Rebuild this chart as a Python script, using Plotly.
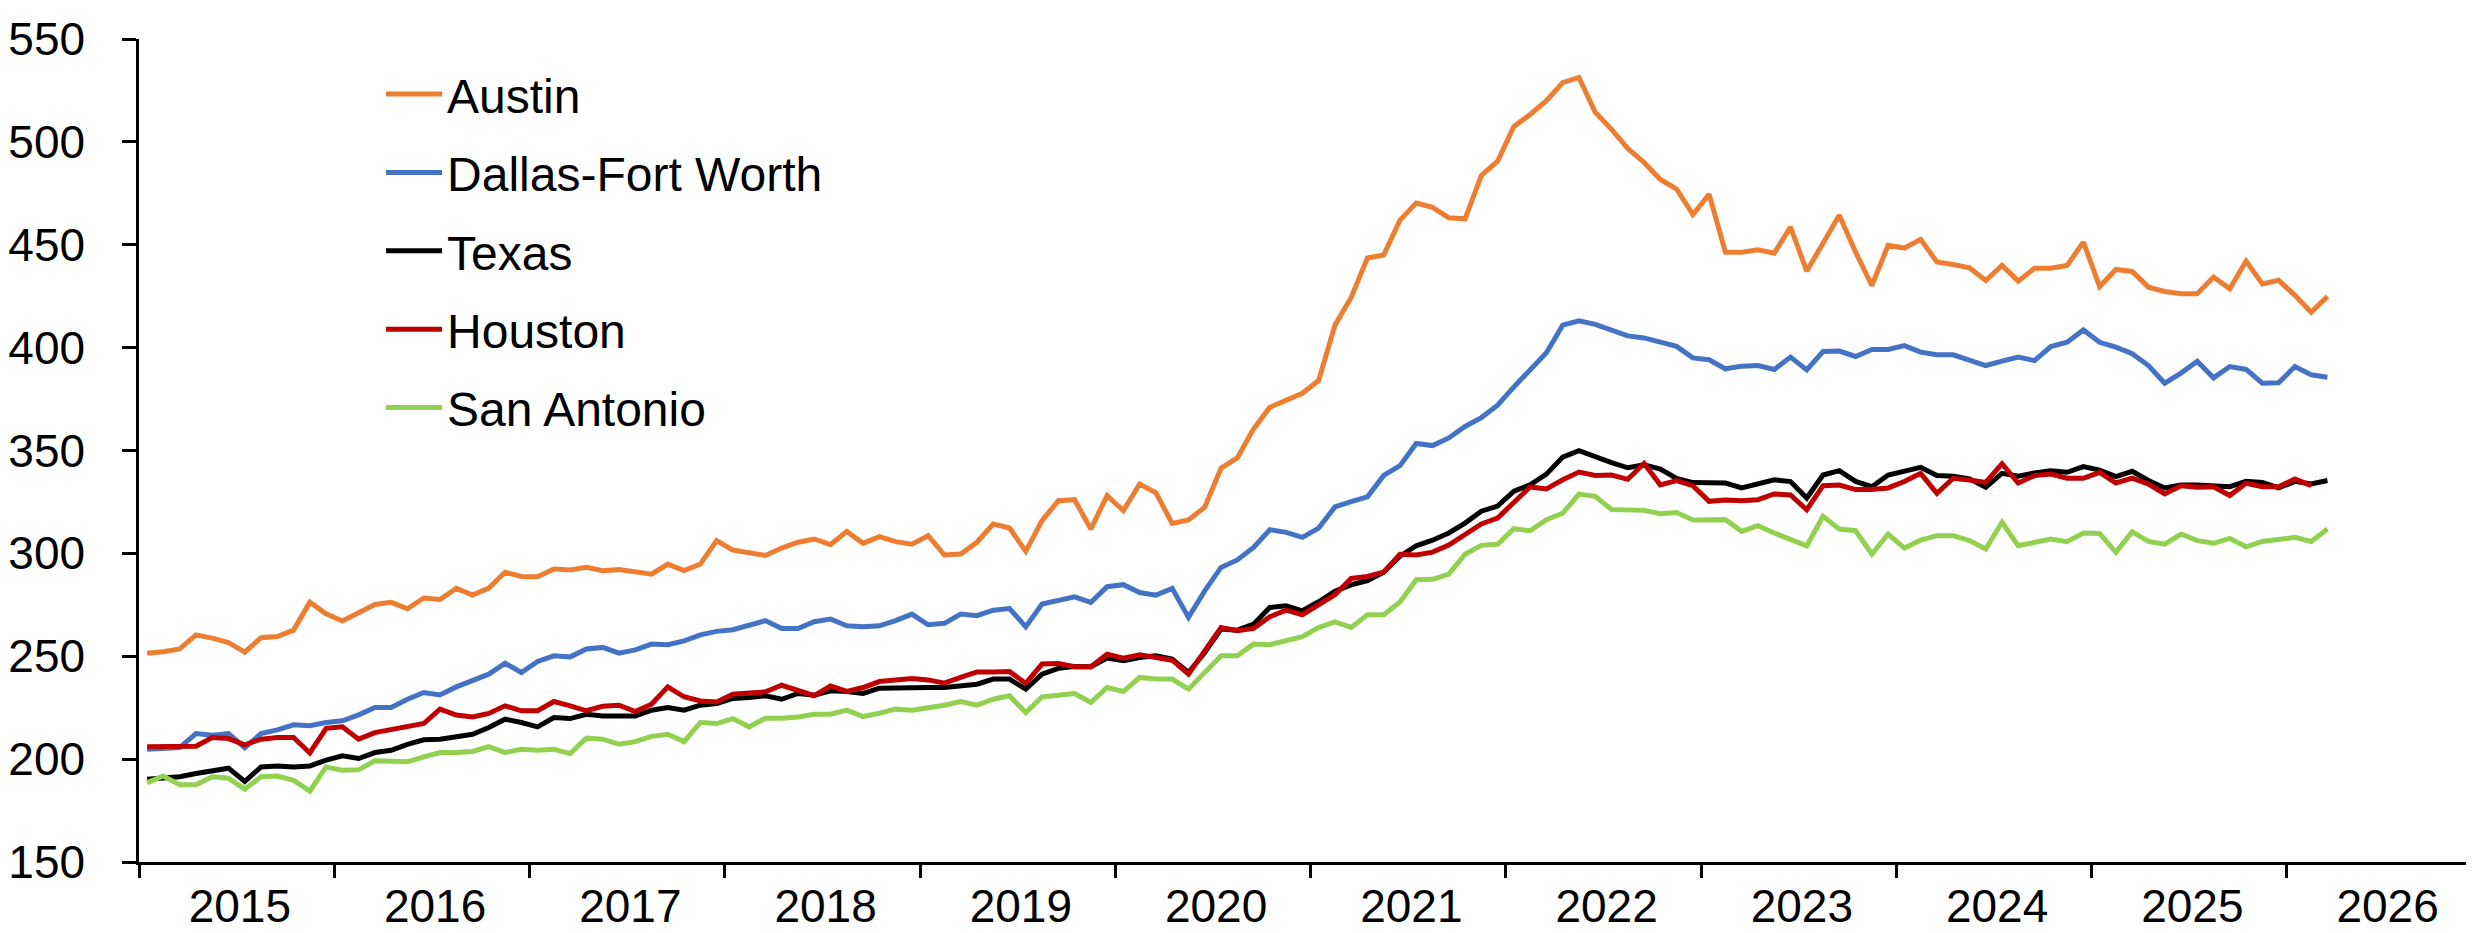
import plotly.graph_objects as go

years = [str(y) for y in range(2015, 2027)]
n_slots = 144  # Jan 2015 .. Dec 2026 monthly category slots

austin = [251.5, 252.2, 253.6, 260.4, 258.8, 256.7, 252.0, 259.0, 259.6, 262.7, 276.3, 270.6,
          267.1, 271.3, 275.2, 276.2, 273.1, 278.3, 277.6, 283.0, 279.7, 283.1, 290.8, 288.8,
          288.6, 292.4, 291.9, 293.2, 291.6, 292.1, 290.8, 289.9, 294.8, 291.6, 294.8, 306.2,
          301.6, 300.2, 299.0, 302.6, 305.4, 307.0, 304.2, 310.7, 304.9, 308.1, 305.7, 304.5,
          308.6, 299.2, 299.7, 305.4, 314.3, 312.3, 301.0, 315.9, 325.6, 326.1, 311.8, 328.1,
          320.8, 333.7, 329.4, 314.6, 316.2, 322.4, 341.4, 346.4, 360.5, 371.0, 374.3, 377.8,
          384.0, 410.9, 424.4, 443.6, 445.0, 462.0, 470.3, 468.2, 463.1, 462.6, 483.7, 490.6,
          507.5, 513.3, 520.0, 528.8, 531.3, 514.4, 506.1, 496.8, 490.0, 481.7, 477.1, 464.7,
          474.5, 446.4, 446.4, 447.6, 445.9, 458.6, 437.2, 450.5, 464.3, 446.4, 430.2, 449.7,
          448.4, 452.6, 441.6, 440.4, 438.8, 432.6, 439.9, 432.3, 438.6, 438.6, 439.9, 451.3,
          429.7, 438.0, 437.0, 429.4, 427.3, 426.2, 426.2, 434.3, 428.6, 442.1, 431.0, 432.7,
          425.4, 417.2, 424.9]

dfw = [204.8, 205.3, 205.6, 212.4, 211.6, 212.4, 205.6, 212.4, 214.2, 216.7, 216.2, 217.8,
       218.6, 221.5, 225.1, 225.1, 229.1, 232.4, 231.2, 235.1, 238.5, 241.3, 246.6, 242.1,
       247.5, 250.2, 249.7, 253.5, 254.3, 251.5, 253.1, 255.9, 255.6, 257.5, 260.4, 262.1,
       262.9, 265.3, 267.3, 263.5, 263.5, 266.8, 268.1, 264.8, 264.3, 264.8, 267.3, 270.5,
       265.3, 266.0, 270.5, 269.7, 272.4, 273.2, 264.3, 275.4, 277.3, 278.9, 276.2, 283.8,
       284.8, 281.0, 279.7, 283.0, 268.9, 281.8, 293.2, 296.8, 302.9, 311.5, 310.2, 307.8,
       312.3, 322.6, 325.1, 327.5, 337.9, 342.6, 353.4, 352.4, 356.1, 361.7, 366.0, 372.0,
       380.9, 389.2, 397.5, 410.9, 413.0, 411.3, 408.2, 405.7, 404.7, 402.6, 400.6, 395.0,
       394.1, 389.7, 391.0, 391.3, 389.4, 395.4, 389.2, 398.1, 398.3, 395.7, 399.1, 399.1,
       401.0, 397.8, 396.5, 396.5, 393.7, 391.3, 393.4, 395.4, 393.7, 400.5, 402.6, 408.6,
       402.6, 400.2, 397.0, 391.3, 382.7, 387.6, 393.4, 385.3, 390.8, 389.4, 382.7, 382.9,
       390.8, 386.8, 385.6]

texas = [190.2, 191.0, 191.4, 193.0, 194.6, 195.6, 189.1, 196.2, 196.7, 196.2, 196.7, 199.5,
         201.6, 200.3, 203.2, 204.3, 207.2, 209.4, 209.7, 211.0, 212.1, 215.4, 219.4, 217.8,
         215.7, 220.2, 219.7, 221.8, 221.0, 221.0, 221.0, 223.8, 225.1, 223.8, 226.2, 227.0,
         229.5, 229.9, 230.8, 229.1, 231.9, 231.1, 233.2, 232.9, 231.9, 234.5, 234.8, 234.8,
         234.8, 234.8, 235.6, 236.4, 238.9, 238.9, 234.0, 241.3, 244.1, 245.0, 244.9, 249.1,
         247.8, 249.4, 250.2, 248.6, 242.1, 251.8, 263.2, 262.7, 265.6, 273.7, 274.5, 272.1,
         276.5, 281.6, 284.7, 286.8, 290.9, 298.6, 303.7, 306.4, 309.9, 314.7, 320.5, 323.0,
         330.2, 333.3, 338.5, 346.8, 349.9, 346.8, 344.1, 341.6, 343.1, 341.0, 336.4, 334.4,
         334.5, 334.2, 331.8, 333.7, 335.8, 334.9, 326.9, 338.1, 340.2, 335.0, 332.4, 338.1,
         339.9, 341.8, 337.8, 337.5, 336.2, 332.1, 338.9, 337.5, 339.1, 340.2, 339.4, 342.2,
         340.5, 337.3, 339.9, 335.4, 331.8, 333.2, 333.2, 332.9, 332.4, 335.0, 334.5, 331.8,
         335.0, 333.7, 335.4]

houston = [206.0, 206.1, 206.3, 206.3, 210.5, 210.0, 206.9, 209.7, 210.5, 210.5, 203.0, 215.0,
           215.7, 209.7, 212.9, 214.2, 215.7, 217.3, 224.3, 221.4, 220.5, 222.2, 225.9, 223.5,
           223.5, 228.0, 225.9, 223.5, 225.7, 226.2, 223.1, 226.7, 235.1, 230.3, 228.3, 227.8,
           231.6, 232.0, 232.7, 235.9, 233.2, 230.8, 235.6, 232.9, 234.8, 237.7, 238.5, 239.2,
           238.5, 236.9, 239.7, 242.4, 242.4, 242.6, 236.8, 246.2, 246.5, 244.9, 244.9, 251.0,
           249.1, 250.7, 249.4, 248.1, 241.3, 252.7, 264.0, 262.4, 263.5, 269.2, 272.4, 270.2,
           275.4, 279.9, 287.8, 288.8, 290.9, 299.6, 299.2, 300.6, 304.0, 309.1, 314.3, 317.2,
           325.0, 332.3, 331.3, 335.8, 339.5, 337.9, 338.1, 336.0, 343.7, 333.3, 335.4, 332.9,
           325.3, 325.9, 325.6, 326.1, 328.9, 328.4, 321.2, 332.9, 333.2, 331.0, 331.0, 331.8,
           334.9, 338.9, 329.2, 336.5, 335.7, 334.5, 343.5, 334.2, 337.8, 338.6, 336.5, 336.5,
           339.4, 334.2, 336.6, 333.7, 328.9, 332.9, 332.1, 332.4, 328.1, 334.1, 332.4, 332.4,
           336.2, 332.9]

san_antonio = [188.6, 191.8, 187.5, 187.5, 191.4, 190.7, 185.4, 191.4, 191.8, 189.7, 184.5, 196.2,
               194.6, 194.8, 199.2, 199.2, 198.7, 201.1, 203.2, 203.2, 203.7, 206.1, 203.2, 204.8,
               204.3, 204.8, 202.7, 210.2, 209.7, 207.2, 208.5, 211.0, 212.1, 208.5, 217.8, 217.3,
               219.7, 215.7, 219.9, 219.9, 220.5, 221.8, 221.8, 223.8, 220.7, 222.3, 224.3, 223.8,
               224.8, 226.2, 228.0, 226.2, 229.1, 230.8, 222.6, 230.3, 231.1, 231.9, 227.5, 234.8,
               232.9, 239.7, 238.9, 238.9, 234.0, 242.1, 250.2, 250.2, 255.9, 255.6, 257.8, 259.5,
               264.0, 266.7, 264.0, 270.2, 270.2, 276.4, 287.2, 287.4, 289.9, 299.6, 303.9, 304.4,
               312.0, 311.0, 316.4, 319.5, 328.8, 327.7, 321.3, 320.9, 320.9, 319.3, 319.9, 316.2,
               316.4, 316.4, 310.7, 313.5, 309.9, 306.5, 303.7, 318.0, 311.8, 311.0, 299.7, 309.4,
               302.6, 306.5, 308.6, 308.6, 306.2, 302.1, 315.1, 303.7, 305.4, 307.0, 305.7, 309.9,
               309.7, 300.5, 310.5, 305.8, 304.5, 309.4, 306.2, 304.9, 307.3, 303.2, 305.8, 306.5,
               307.8, 305.8, 311.8]

series = [
    ("Austin", austin, "#ED7D31"),
    ("Dallas-Fort Worth", dfw, "#4472C4"),
    ("Texas", texas, "#000000"),
    ("Houston", houston, "#C00000"),
    ("San Antonio", san_antonio, "#92D050"),
]

FONT = "Liberation Sans, Arial, sans-serif"

fig = go.Figure()
for i, (name, vals, color) in enumerate(series):
    fig.add_trace(go.Scatter(
        x=list(range(len(vals))), y=vals, mode="lines", name=name,
        legendgroup=name,
        line=dict(color=color, width=5),
    ))

fig.update_layout(
    width=2474, height=933,
    margin=dict(l=131, r=0, t=31, b=79, autoexpand=False),
    paper_bgcolor="white", plot_bgcolor="white",
    font=dict(family=FONT, size=46, color="black"),
    showlegend=True,
    legend=dict(
        x=0.1033, y=0.979, xanchor="left", yanchor="top",
        bgcolor="rgba(0,0,0,0)", borderwidth=0,
        font=dict(family=FONT, size=48, color="black"),
        tracegroupgap=13, itemwidth=56,
    ),
    xaxis=dict(
        range=[-0.5, n_slots - 0.5],
        automargin=False,
        tickmode="array",
        tickvals=[5.7 + 12 * k for k in range(len(years))],
        ticktext=years,
        ticks="", showgrid=False, zeroline=False,
        showline=True, linecolor="black", linewidth=2.5,
        ticklabelstandoff=2,
        tickfont=dict(family=FONT, size=46, color="black"),
        minor=dict(tickmode="linear", tick0=-0.5, dtick=12, ticks="outside",
                   ticklen=13, tickwidth=2.5, tickcolor="black", showgrid=False),
    ),
    yaxis=dict(
        range=[150, 550], dtick=50, tick0=150,
        automargin=False,
        ticks="outside", ticklen=14, tickwidth=2.5, tickcolor="black",
        showline=True, linecolor="black", linewidth=2.5,
        showgrid=False, zeroline=False,
        ticklabelstandoff=28,
        tickfont=dict(family=FONT, size=46, color="black"),
    ),
)

fig.write_html("out.html")
